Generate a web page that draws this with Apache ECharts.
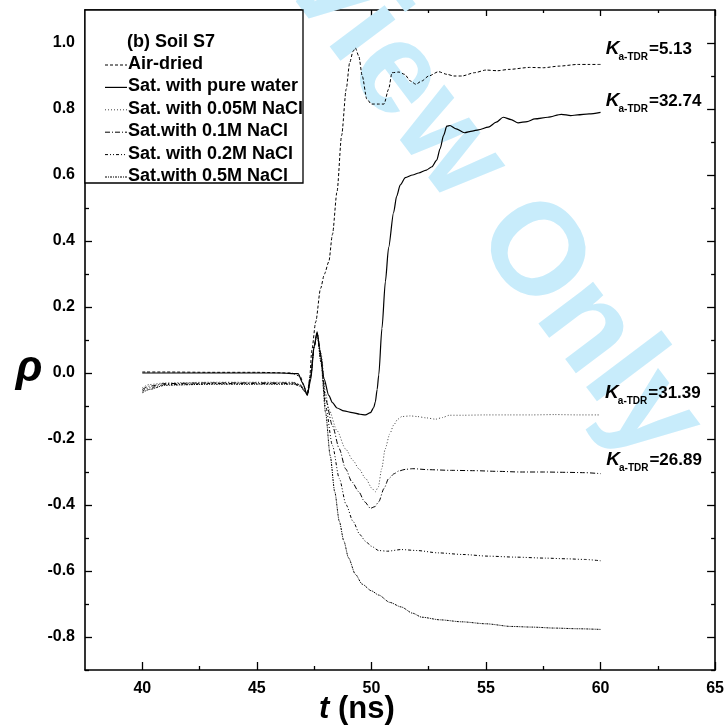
<!DOCTYPE html>
<html>
<head>
<meta charset="utf-8">
<script src="https://cdn.jsdelivr.net/npm/echarts@6/dist/echarts.min.js"></script>
<style>
html, body { margin: 0; padding: 0; background: #fff; }
#chart { width: 727px; height: 726px; }
</style>
</head>
<body>
<div id="chart"></div>
<script>
// TDR waveforms, soil S7: reflection coefficient rho vs. travel time t (ns)
const seriesNames = ['Air-dried', 'Sat. with pure water', 'Sat. with 0.05M NaCl',
  'Sat.with 0.1M NaCl', 'Sat. with 0.2M NaCl', 'Sat.with 0.5M NaCl'];

const tAir = [40, 41, 43, 45, 46.5, 46.9, 47.05, 47.2, 47.3, 47.4, 47.57, 47.78, 47.95, 48.14, 48.3, 48.5, 48.7, 48.9, 49.05, 49.2, 49.3, 49.45, 49.6, 49.8, 50.0, 50.3, 50.55, 50.75, 50.9, 51.2, 51.45, 51.7, 51.94, 52.2, 52.5, 52.93, 53.3, 53.6, 53.95, 54.5, 55.0, 55.5, 56.0, 56.9, 57.5, 58.2, 59.0, 59.5, 60];
const rhoAir = [0.003, 0.003, 0.002, 0.002, 0.0, -0.01, -0.04, -0.065, -0.02, 0.07, 0.155, 0.256, 0.3, 0.337, 0.42, 0.55, 0.72, 0.86, 0.94, 0.975, 0.985, 0.96, 0.9, 0.83, 0.815, 0.815, 0.815, 0.86, 0.91, 0.912, 0.905, 0.885, 0.875, 0.885, 0.9, 0.913, 0.905, 0.9, 0.9, 0.91, 0.918, 0.916, 0.92, 0.926, 0.925, 0.93, 0.935, 0.935, 0.935];

const tWater = [40, 42, 44, 46, 46.8, 47.0, 47.2, 47.35, 47.5, 47.63, 47.75, 47.93, 48.14, 48.3, 48.5, 48.8, 49.16, 49.5, 49.74, 49.96, 50.1, 50.17, 50.25, 50.32, 50.46, 50.61, 50.75, 50.97, 51.1, 51.26, 51.48, 51.8, 52.06, 52.4, 52.64, 52.85, 53.0, 53.15, 53.29, 53.43, 53.7, 54.06, 54.4, 54.67, 55.1, 55.45, 55.75, 56.1, 56.4, 56.8, 57.13, 57.7, 58.29, 58.7, 59.0, 59.5, 60];
const rhoWater = [0.0, 0.0, 0.0, 0.0, -0.002, -0.03, -0.068, -0.02, 0.08, 0.125, 0.07, -0.017, -0.068, -0.09, -0.106, -0.115, -0.12, -0.125, -0.127, -0.12, -0.105, -0.088, -0.05, -0.006, 0.135, 0.277, 0.38, 0.487, 0.535, 0.57, 0.592, 0.6, 0.606, 0.615, 0.625, 0.645, 0.68, 0.72, 0.748, 0.75, 0.74, 0.728, 0.733, 0.737, 0.745, 0.76, 0.775, 0.768, 0.758, 0.762, 0.77, 0.775, 0.784, 0.78, 0.782, 0.785, 0.79];

const tNaCl005 = [40, 40.3, 41, 43, 45, 46.6, 46.9, 47.05, 47.2, 47.35, 47.5, 47.63, 47.8, 48.0, 48.14, 48.5, 48.87, 49.2, 49.45, 49.75, 50.03, 50.17, 50.3, 50.45, 50.6, 50.8, 50.97, 51.15, 51.33, 51.7, 52.0, 52.4, 52.8, 53.1, 53.4, 54, 55, 56, 57, 58, 59, 60];
const rhoNaCl005 = [-0.045, -0.035, -0.03, -0.028, -0.028, -0.028, -0.035, -0.05, -0.062, -0.01, 0.08, 0.12, 0.06, -0.06, -0.11, -0.175, -0.23, -0.265, -0.29, -0.32, -0.35, -0.36, -0.345, -0.29, -0.23, -0.185, -0.158, -0.14, -0.132, -0.13, -0.132, -0.136, -0.14, -0.135, -0.128, -0.128, -0.127, -0.127, -0.127, -0.126, -0.127, -0.127];

const tNaCl01 = [40, 40.3, 41, 43, 45, 46.6, 46.9, 47.05, 47.2, 47.35, 47.5, 47.63, 47.8, 48.0, 48.3, 48.6, 48.87, 49.15, 49.45, 49.7, 49.96, 50.15, 50.32, 50.55, 50.75, 51.0, 51.19, 51.48, 51.8, 52.5, 53.5, 54.5, 55.5, 56.5, 57.5, 58.5, 59.3, 60];
const rhoNaCl01 = [-0.05, -0.04, -0.032, -0.03, -0.03, -0.03, -0.036, -0.05, -0.063, -0.01, 0.08, 0.12, 0.05, -0.08, -0.16, -0.23, -0.29, -0.33, -0.36, -0.39, -0.41, -0.405, -0.39, -0.35, -0.32, -0.305, -0.297, -0.292, -0.29, -0.293, -0.295, -0.296, -0.298, -0.3, -0.3, -0.301, -0.302, -0.305];

const tNaCl02 = [40, 40.3, 41, 43, 45, 46.6, 46.9, 47.05, 47.2, 47.35, 47.5, 47.63, 47.8, 48.0, 48.3, 48.6, 48.9, 49.2, 49.5, 49.74, 50.0, 50.32, 50.7, 51.3, 52.0, 52.9, 54, 55.1, 56.3, 57.6, 58.5, 59.3, 60];
const rhoNaCl02 = [-0.055, -0.045, -0.035, -0.032, -0.032, -0.032, -0.038, -0.052, -0.064, -0.01, 0.08, 0.12, 0.04, -0.1, -0.22, -0.32, -0.4, -0.45, -0.49, -0.51, -0.525, -0.538, -0.54, -0.535, -0.538, -0.545, -0.55, -0.555, -0.558, -0.561, -0.563, -0.565, -0.569];

const tNaCl05 = [40, 40.3, 41, 43, 45, 46.6, 46.9, 47.05, 47.2, 47.35, 47.5, 47.63, 47.8, 48.0, 48.2, 48.4, 48.6, 48.8, 49.0, 49.3, 49.6, 50.0, 50.32, 50.8, 51.3, 51.8, 52.2, 53.0, 53.95, 55, 56.1, 57, 58, 59, 60];
const rhoNaCl05 = [-0.06, -0.05, -0.037, -0.034, -0.034, -0.034, -0.04, -0.054, -0.066, -0.01, 0.08, 0.12, 0.03, -0.12, -0.25, -0.36, -0.45, -0.51, -0.56, -0.61, -0.64, -0.66, -0.673, -0.695, -0.709, -0.728, -0.74, -0.748, -0.754, -0.76, -0.768, -0.77, -0.773, -0.775, -0.777];

// Apparent dielectric constants written at the end of the traces
const kaValues = ['5.13', '32.74', '31.39', '26.89'];
const kaAnchorT = [60.23, 60.23, 60.2, 60.25];
const kaAnchorRho = [0.982, 0.824, -0.061, -0.264];

// Axis ticks
const xMajor = [40, 45, 50, 55, 60, 65];
const xMinor = [42.5, 47.5, 52.5, 57.5, 62.5];
const yMajor = [-0.8, -0.6, -0.4, -0.2, 0.0, 0.2, 0.4, 0.6, 0.8, 1.0];
const yMinor = [-0.9, -0.7, -0.5, -0.3, -0.1, 0.1, 0.3, 0.5, 0.7, 0.9];

const tSets = [tAir, tWater, tNaCl005, tNaCl01, tNaCl02, tNaCl05];
const rhoSets = [rhoAir, rhoWater, rhoNaCl005, rhoNaCl01, rhoNaCl02, rhoNaCl05];
const dashes = [[3, 2], 'solid', [1, 2], [5, 2, 1, 2], [3, 2, 1, 2, 1, 2], [2, 1, 1, 1]];
const widths = [1, 1.2, 1, 1, 1, 1];
const colors = ['#000', '#000', '#444', '#000', '#000', '#000'];

const FONT = 'Arial, "Liberation Sans", Helvetica, sans-serif';
const X_MIN = 37.5, X_MAX = 65, Y_MIN = -0.9, Y_MAX = 1.1;

const chart = echarts.init(document.getElementById('chart'), null, { renderer: 'canvas' });

function xAxisDef(position, ticks, len, withLine, withLabel) {
  return {
    type: 'value', position: position, min: X_MIN, max: X_MAX,
    axisLine: { show: withLine, onZero: false, lineStyle: { color: '#000', width: 1.6 } },
    axisTick: { show: true, inside: true, length: len, customValues: ticks, lineStyle: { color: '#000', width: 1.3 } },
    axisLabel: withLabel ? { show: true, customValues: ticks, color: '#000', fontFamily: FONT, fontWeight: 'bold', fontSize: 16, margin: 11,
      formatter: v => String(Math.round(v)) } : { show: false },
    splitLine: { show: false }
  };
}
function yAxisDef(position, ticks, len, withLine, withLabel) {
  return {
    type: 'value', position: position, min: Y_MIN, max: Y_MAX,
    axisLine: { show: withLine, onZero: false, lineStyle: { color: '#000', width: 1.6 } },
    axisTick: { show: true, inside: true, length: len, customValues: ticks, lineStyle: { color: '#000', width: 1.3 } },
    axisLabel: withLabel ? { show: true, customValues: ticks, color: '#000', fontFamily: FONT, fontWeight: 'bold', fontSize: 16, margin: 10,
      formatter: v => (Math.abs(v) < 1e-9 ? 0 : v).toFixed(1) } : { show: false },
    splitLine: { show: false }
  };
}

const series = seriesNames.map((name, i) => ({
  name: name,
  type: 'line',
  xAxisIndex: 0,
  yAxisIndex: 0,
  data: tSets[i].map((t, j) => [t, rhoSets[i][j]]),
  showSymbol: false,
  symbol: 'none',
  smooth: 0.25,
  smoothMonotone: 'x',
  lineStyle: { color: colors[i], width: widths[i], type: dashes[i] },
  z: 3
}));

chart.setOption({
  animation: false,
  backgroundColor: '#fff',
  grid: { left: 85, right: 9, top: 10, bottom: 56 },
  xAxis: [
    xAxisDef('bottom', xMajor, 8, true, true),
    xAxisDef('bottom', xMinor, 4, false, false),
    xAxisDef('top', xMajor, 6, true, false),
    xAxisDef('top', xMinor, 3, false, false)
  ],
  yAxis: [
    yAxisDef('left', yMajor, 7, true, true),
    yAxisDef('left', yMinor, 4, false, false),
    yAxisDef('right', yMajor, 8, true, false),
    yAxisDef('right', yMinor, 4, false, false)
  ],
  series: series
});

// text measuring for composed labels
const measureCtx = document.createElement('canvas').getContext('2d');
function textWidth(font, s) { measureCtx.font = font; return measureCtx.measureText(s).width; }

const graphics = [];

// watermark
graphics.push({
  type: 'text', z: 1, silent: true,
  x: 442, y: 136, rotation: -53 * Math.PI / 180,
  style: { text: 'Review Only', font: 'bold 130px ' + FONT, fill: '#c8ecfb', align: 'center', verticalAlign: 'middle' }
});

// legend box
graphics.push({
  type: 'rect', z: 20,
  shape: { x: 85, y: 10, width: 218, height: 173 },
  style: { fill: '#fff', stroke: '#000', lineWidth: 1.3 }
});
graphics.push({
  type: 'text', z: 21, x: 127, y: 42,
  style: { text: '(b) Soil S7', font: 'bold 18px ' + FONT, fill: '#000', verticalAlign: 'middle' }
});
seriesNames.forEach((name, i) => {
  const yc = 64 + i * 22.4;
  graphics.push({
    type: 'line', z: 21,
    shape: { x1: 105, y1: yc + 1, x2: 127, y2: yc + 1 },
    style: { stroke: colors[i], lineWidth: widths[i], lineDash: dashes[i] === 'solid' ? null : dashes[i] }
  });
  graphics.push({
    type: 'text', z: 21, x: 128, y: yc,
    style: { text: name, font: 'bold 18px ' + FONT, fill: '#000', verticalAlign: 'middle' }
  });
});

// K_a-TDR labels
const kFont = 'italic bold 19px ' + FONT;
const subFont = 'bold 10px ' + FONT;
const valFont = 'bold 17px ' + FONT;
kaValues.forEach((val, i) => {
  const p = chart.convertToPixel({ xAxisIndex: 0, yAxisIndex: 0 }, [kaAnchorT[i], kaAnchorRho[i]]);
  const kw = textWidth(kFont, 'K');
  const sw = textWidth(subFont, 'a-TDR');
  graphics.push({ type: 'text', z: 22, x: p[0], y: p[1],
    style: { text: 'K', font: kFont, fill: '#000', verticalAlign: 'middle' } });
  graphics.push({ type: 'text', z: 22, x: p[0] + kw - 1, y: p[1] + 8,
    style: { text: 'a-TDR', font: subFont, fill: '#000', verticalAlign: 'middle' } });
  graphics.push({ type: 'text', z: 22, x: p[0] + kw - 1 + sw + 1, y: p[1],
    style: { text: '=' + val, font: valFont, fill: '#000', verticalAlign: 'middle' } });
});

// axis titles
graphics.push({ type: 'text', z: 22, x: 29, y: 369,
  style: { text: 'ρ', font: 'italic bold 44px ' + FONT, fill: '#000', align: 'center', verticalAlign: 'middle' } });
const tFont = 'italic bold 31px ' + FONT;
const nsFont = 'bold 31px ' + FONT;
const tW = textWidth(tFont, 't ');
graphics.push({ type: 'text', z: 22, x: 319, y: 709,
  style: { text: 't', font: tFont, fill: '#000', verticalAlign: 'middle' } });
graphics.push({ type: 'text', z: 22, x: 319 + tW, y: 709,
  style: { text: '(ns)', font: nsFont, fill: '#000', verticalAlign: 'middle' } });

chart.setOption({ graphic: graphics });
</script>
</body>
</html>
